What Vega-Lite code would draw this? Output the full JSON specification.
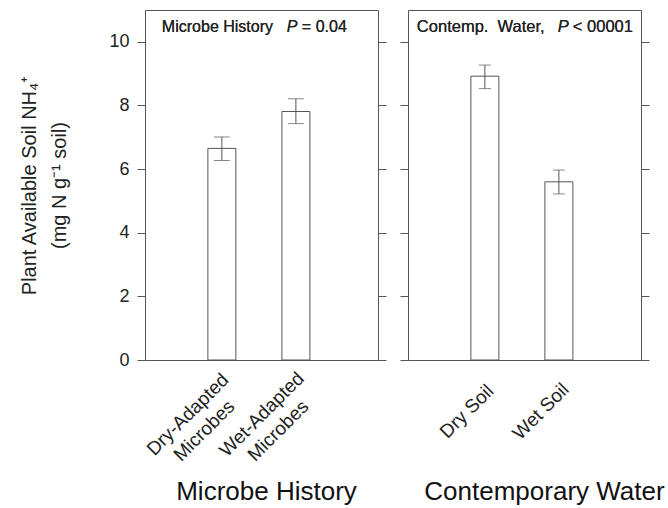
{
  "$schema": "https://vega.github.io/schema/vega-lite/v6.json",
  "autosize": {"type": "none"},
  "padding": {"left": 145, "top": 10, "right": 523, "bottom": 498},
  "background": "white",
  "spacing": 30,
  "bounds": "flush",
  "config": {
    "view": {"stroke": "#555", "strokeWidth": 1},
    "font": "Liberation Sans",
    "axis": {"grid": false}
  },
  "datasets": {
    "left": [
      {"group": "Dry-Adapted Microbes", "mean": 6.65, "lo": 6.27, "hi": 7.01},
      {"group": "Wet-Adapted Microbes", "mean": 7.81, "lo": 7.43, "hi": 8.21}
    ],
    "right": [
      {"group": "Dry Soil", "mean": 8.92, "lo": 8.53, "hi": 9.27},
      {"group": "Wet Soil", "mean": 5.6, "lo": 5.22, "hi": 5.97}
    ]
  },
  "hconcat": [
    {
      "width": 233,
      "height": 350,
      "data": {"name": "left"},
      "encoding": {
        "x": {
          "field": "group", "type": "nominal", "sort": null,
          "scale": {"paddingInner": 0.622, "paddingOuter": 0.885, "align": 0.48},
          "axis": {
            "orient": "bottom", "ticks": false, "domain": false,
            "labelAngle": -45, "labelAlign": "center", "labelBaseline": "middle",
            "labelOffset": -34, "labelPadding": 54, "labelFontSize": 19, "labelLineHeight": 23,
            "labelColor": "#222", "labelExpr": "split(datum.label, ' ')",
            "title": "Microbe History", "titleFontSize": 26, "titleFontWeight": "normal", "titleColor": "#111",
            "titleX": 121, "titleY": 139, "titleBaseline": "alphabetic", "titleAlign": "center"
          }
        }
      },
      "layer": [
        {
          "mark": {"type": "bar", "fill": "white", "stroke": "#555", "strokeWidth": 1},
          "encoding": {
            "y": {
              "field": "mean", "type": "quantitative",
              "scale": {"domain": [0, 11], "nice": false},
              "axis": {
                "orient": "left", "values": [0, 2, 4, 6, 8, 10], "tickSize": 8, "tickColor": "#555",
                "domain": false, "labelFontSize": 18, "labelPadding": 8, "labelColor": "#222",
                "title": ["Plant Available Soil NH₄⁺", "(mg N g⁻¹ soil)"],
                "titleFontSize": 20, "titleFontWeight": "normal", "titleColor": "#222",
                "titleX": -110, "titleY": 175, "titleAngle": 270, "titleBaseline": "alphabetic",
                "titleAlign": "center", "titleLineHeight": 30
              }
            }
          }
        },
        {
          "mark": {"type": "rule", "color": "#555", "strokeWidth": 1},
          "encoding": {
            "y": {"field": "lo", "type": "quantitative", "scale": {"domain": [0, 11], "nice": false}, "axis": null},
            "y2": {"field": "hi"}
          }
        },
        {
          "mark": {"type": "tick", "color": "#555", "size": 16, "thickness": 1},
          "encoding": {
            "y": {"field": "lo", "type": "quantitative", "scale": {"domain": [0, 11], "nice": false}, "axis": null}
          }
        },
        {
          "mark": {"type": "tick", "color": "#555", "size": 16, "thickness": 1},
          "encoding": {
            "y": {
              "field": "hi", "type": "quantitative", "scale": {"domain": [0, 11], "nice": false},
              "axis": {"orient": "right", "values": [0, 2, 4, 6, 8, 10], "tickSize": 8, "tickColor": "#555", "domain": false, "labels": false, "title": null}
            }
          }
        },
        {
          "mark": {"type": "text", "align": "left", "baseline": "alphabetic", "fontSize": 16, "dx": -60, "color": "#222"},
          "encoding": {
            "x": {"datum": "Dry-Adapted Microbes"},
            "y": {"datum": 10.3, "type": "quantitative", "scale": {"domain": [0, 11], "nice": false}, "axis": null},
            "text": {"value": "Microbe History"}
          }
        },
        {
          "mark": {"type": "text", "align": "left", "baseline": "alphabetic", "fontSize": 16, "fontStyle": "italic", "dx": 65, "color": "#222"},
          "encoding": {
            "x": {"datum": "Dry-Adapted Microbes"},
            "y": {"datum": 10.3, "type": "quantitative", "scale": {"domain": [0, 11], "nice": false}, "axis": null},
            "text": {"value": "P"}
          }
        },
        {
          "mark": {"type": "text", "align": "left", "baseline": "alphabetic", "fontSize": 16, "dx": 80, "color": "#222"},
          "encoding": {
            "x": {"datum": "Dry-Adapted Microbes"},
            "y": {"datum": 10.3, "type": "quantitative", "scale": {"domain": [0, 11], "nice": false}, "axis": null},
            "text": {"value": "= 0.04"}
          }
        }
      ],
      "resolve": {"axis": {"y": "independent"}}
    },
    {
      "width": 233,
      "height": 350,
      "data": {"name": "right"},
      "encoding": {
        "x": {
          "field": "group", "type": "nominal", "sort": null,
          "scale": {"paddingInner": 0.622, "paddingOuter": 0.885, "align": 0.48},
          "axis": {
            "orient": "bottom", "ticks": false, "domain": false,
            "labelAngle": -45, "labelAlign": "center", "labelBaseline": "middle",
            "labelOffset": -18, "labelPadding": 51, "labelFontSize": 19,
            "labelColor": "#222",
            "title": "Contemporary Water", "titleFontSize": 26, "titleFontWeight": "normal", "titleColor": "#111",
            "titleX": 136, "titleY": 139, "titleBaseline": "alphabetic", "titleAlign": "center"
          }
        }
      },
      "layer": [
        {
          "mark": {"type": "bar", "fill": "white", "stroke": "#555", "strokeWidth": 1},
          "encoding": {
            "y": {
              "field": "mean", "type": "quantitative",
              "scale": {"domain": [0, 11], "nice": false},
              "axis": {"orient": "left", "values": [0, 2, 4, 6, 8, 10], "tickSize": 8, "tickColor": "#555", "domain": false, "labels": false, "title": null}
            }
          }
        },
        {
          "mark": {"type": "rule", "color": "#555", "strokeWidth": 1},
          "encoding": {
            "y": {"field": "lo", "type": "quantitative", "scale": {"domain": [0, 11], "nice": false}, "axis": null},
            "y2": {"field": "hi"}
          }
        },
        {
          "mark": {"type": "tick", "color": "#555", "size": 12, "thickness": 1},
          "encoding": {
            "y": {"field": "lo", "type": "quantitative", "scale": {"domain": [0, 11], "nice": false}, "axis": null}
          }
        },
        {
          "mark": {"type": "tick", "color": "#555", "size": 12, "thickness": 1},
          "encoding": {
            "y": {
              "field": "hi", "type": "quantitative", "scale": {"domain": [0, 11], "nice": false},
              "axis": {"orient": "right", "values": [0, 2, 4, 6, 8, 10], "tickSize": 8, "tickColor": "#555", "domain": false, "labels": false, "title": null}
            }
          }
        },
        {
          "mark": {"type": "text", "align": "left", "baseline": "alphabetic", "fontSize": 16.5, "dx": -68, "color": "#222"},
          "encoding": {
            "x": {"datum": "Dry Soil"},
            "y": {"datum": 10.3, "type": "quantitative", "scale": {"domain": [0, 11], "nice": false}, "axis": null},
            "text": {"value": "Contemp. \u00a0Water,"}
          }
        },
        {
          "mark": {"type": "text", "align": "left", "baseline": "alphabetic", "fontSize": 16.5, "fontStyle": "italic", "dx": 73, "color": "#222"},
          "encoding": {
            "x": {"datum": "Dry Soil"},
            "y": {"datum": 10.3, "type": "quantitative", "scale": {"domain": [0, 11], "nice": false}, "axis": null},
            "text": {"value": "P"}
          }
        },
        {
          "mark": {"type": "text", "align": "left", "baseline": "alphabetic", "fontSize": 16.5, "dx": 88, "color": "#222"},
          "encoding": {
            "x": {"datum": "Dry Soil"},
            "y": {"datum": 10.3, "type": "quantitative", "scale": {"domain": [0, 11], "nice": false}, "axis": null},
            "text": {"value": "< 00001"}
          }
        }
      ],
      "resolve": {"axis": {"y": "independent"}}
    }
  ]
}
